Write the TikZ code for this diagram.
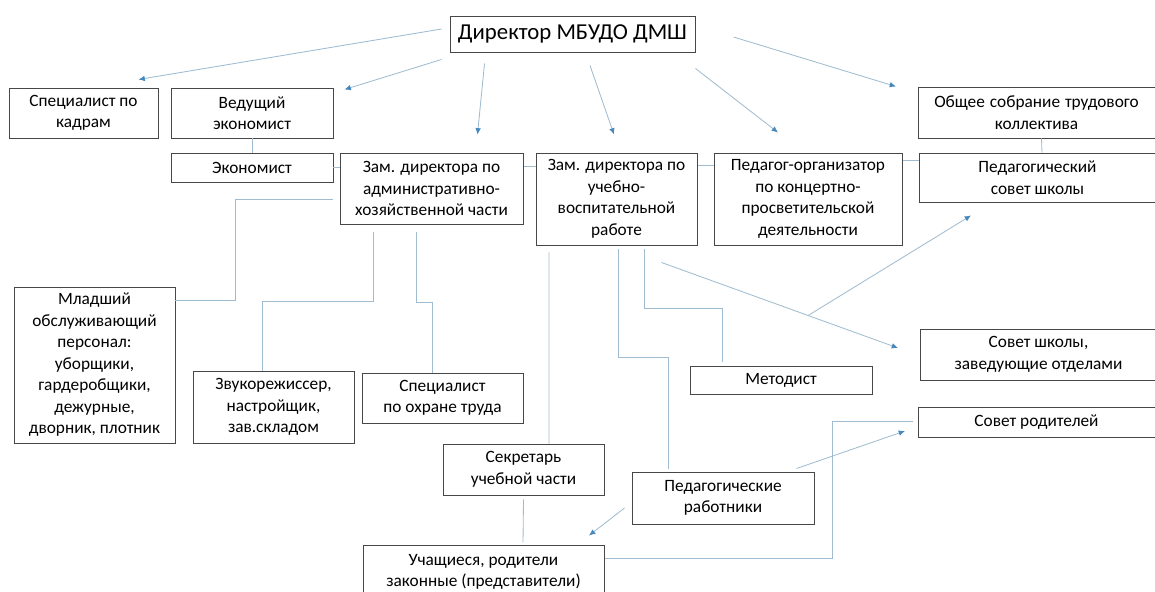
\documentclass[tikz,border=0pt]{standalone}
\usepackage{fontspec}
\setmainfont{Carlito}
\usetikzlibrary{arrows.meta}
\usetikzlibrary{calc}

\definecolor{linkc}{RGB}{160,188,208}
\definecolor{tipc}{RGB}{70,135,188}

% right column boxes run off the page: pad text so it stays centred in the visible part
\newcommand{\rpad}{\hspace*{0.4cm}}

\tikzset{
  box/.style={draw=black!72, line width=0.7pt, align=center, inner sep=0pt,
              font=\fontsize{12.3}{15.3}\selectfont},
  rbox/.style={box, anchor=west, minimum width=252*0.025cm},
  link/.style={draw=linkc, line width=0.6pt},
  arr/.style={link, -{Latex[length=4.5pt,width=4pt,color=tipc]}}
}

\begin{document}
\begin{tikzpicture}[x=0.025cm, y=-0.025cm]

\useasboundingbox (0,0) rectangle (1155,591);
\clip (0,0) rectangle (1155,591);

% top level
\node[box, minimum width=245*0.025cm, minimum height=36*0.025cm,
      font=\fontsize{16.2}{18}\selectfont] (dir) at (572.5,34) {Директор МБУДО ДМШ};

\node[box, minimum width=149*0.025cm, minimum height=50*0.025cm] (kadr) at (83.5,113) {Специалист по\\кадрам};
\node[box, minimum width=162*0.025cm, minimum height=50*0.025cm] (vedek) at (252,113) {Ведущий\\экономист};
\node[box, minimum width=162*0.025cm, minimum height=29*0.025cm] (ekon) at (252,167.5) {Экономист};
\node[box, minimum width=183*0.025cm, minimum height=71*0.025cm] (ahch) at (431.5,188.5) {Зам. директора по\\административно-\\хозяйственной части};
\node[box, minimum width=161*0.025cm, minimum height=92*0.025cm] (uvr) at (616.5,199) {Зам. директора по\\учебно-\\воспитательной\\работе};
\node[box, minimum width=188*0.025cm, minimum height=92*0.025cm] (pedorg) at (808,199) {Педагог-организатор\\по концертно-\\просветительской\\деятельности};

% right column
\node[rbox, minimum height=51*0.025cm] (sobr) at (918,112.5) {Общее\hspace{3.5pt}собрание\hspace{3.5pt}трудового\rpad\\коллектива\rpad};
\node[rbox, minimum height=49*0.025cm] (pedsov) at (919,177.5) {Педагогический\rpad\\совет школы\rpad};
\node[rbox, minimum height=51*0.025cm] (sovsh) at (920,354.5) {Совет школы,\rpad\\заведующие отделами\rpad};
\node[rbox, minimum height=30*0.025cm] (sovrod) at (918,422) {Совет родителей\rpad};

% lower part
\node[box, minimum width=161*0.025cm, minimum height=156*0.025cm] (mlad) at (94.5,365) {Младший\\обслуживающий\\персонал:\\уборщики,\\гардеробщики,\\дежурные,\\дворник, плотник};
\node[box, minimum width=161*0.025cm, minimum height=72*0.025cm] (zvuk) at (273.5,407) {Звукорежиссер,\\настройщик,\\зав.складом};
\node[box, minimum width=161*0.025cm, minimum height=50*0.025cm] (ohrana) at (442.5,398) {Специалист\\по охране труда};
\node[box, minimum width=182*0.025cm, minimum height=28*0.025cm] (metod) at (781,380) {Методист};
\node[box, minimum width=161*0.025cm, minimum height=51*0.025cm] (sekr) at (523.5,469.5) {Секретарь\\учебной части};
\node[box, minimum width=182*0.025cm, minimum height=52*0.025cm] (pedrab) at (723,498) {Педагогические\\работники};
\node[box, minimum width=241*0.025cm, minimum height=54*0.025cm] (uch) at (483.5,572) {Учащиеся, родители\\законные (представители)};

% arrows from the director
\draw[arr] ([shift={(-8,-5)}]dir.west) -- ([shift={(-20,-8)}]kadr.north east);
\draw[arr] ([shift={(-8,7)}]dir.south west) -- ([shift={(11,2)}]vedek.north east);
\draw[arr] ([shift={(35,11)}]dir.south west) -- ([shift={(-46,-18)}]ahch.north east);
\draw[arr] ([shift={(17.5,13)}]dir.south) -- ([shift={(-2.5,-18)}]uvr.north);
\draw[arr] ([shift={(0,16)}]dir.south east) -- ([shift={(-30,-20)}]pedorg.north);
\draw[arr] ([shift={(38,3)}]dir.east) -- ([shift={(-22,0)}]sobr.north west);

% plain links
\draw[link] (vedek.south) -- (ekon.north);
\draw[link] (ekon.east) -- (ekon.east -| ahch.west);
\draw[link] ([shift={(0,14)}]ahch.north east) -- ([shift={(0,14)}]uvr.north west);
\draw[link] ([shift={(0,13)}]uvr.north east) -- ([shift={(0,13)}]pedorg.north west);
\draw[link] ([shift={(0,8)}]pedorg.north east) -- ([shift={(0,8)}]pedsov.north west);
\draw[link] ([shift={(-3,0)}]sobr.south) -- ([shift={(-3.5,0)}]pedsov.north);
\draw[link] ([shift={(-7,10.5)}]ahch.west) -| ([shift={(60,-65)}]mlad.east) -- ([shift={(0,-65)}]mlad.east);
\draw[link] ([shift={(-58.5,8)}]ahch.south) |- ([shift={(-11.5,-69)}]zvuk.north) -- ([shift={(-11.5,0)}]zvuk.north);
\draw[link] ([shift={(-15.5,8)}]ahch.south) |- ([shift={(-10.5,-70)}]ohrana.north) -- ([shift={(-10.5,0)}]ohrana.north);
\draw[link] ([shift={(-67.5,7)}]uvr.south) -- ([shift={(25.5,0)}]sekr.north);
\draw[link] ([shift={(0,4)}]sekr.south) -- ([shift={(39.5,-2)}]uch.north);
\draw[link] ([shift={(1.5,4)}]uvr.south) |- ([shift={(-55,-114)}]pedrab.north) -- ([shift={(-55,-3)}]pedrab.north);
\draw[link] ([shift={(27.5,4)}]uvr.south) |- ([shift={(-59,-57)}]metod.north) -- ([shift={(-59,-4)}]metod.north);
\draw[link] ([shift={(0,-14)}]uch.east) -| ([shift={(-86,-1)}]sovrod.west) -- ([shift={(-5,-1)}]sovrod.west);

% arrows below
\draw[arr] ([shift={(-36,17)}]uvr.south east) -- coordinate[pos=0.62] (cross) ([shift={(-22,-6.5)}]sovsh.west);
\draw[arr] (cross) -- ([shift={(52,13)}]pedsov.south west);
\draw[arr] ([shift={(-18,-3)}]pedrab.north east) -- ([shift={(-13,9)}]sovrod.west);
\draw[arr] ([shift={(-7,10)}]pedrab.west) -- ([shift={(-15.5,-9)}]uch.north east);

\end{tikzpicture}
\end{document}
